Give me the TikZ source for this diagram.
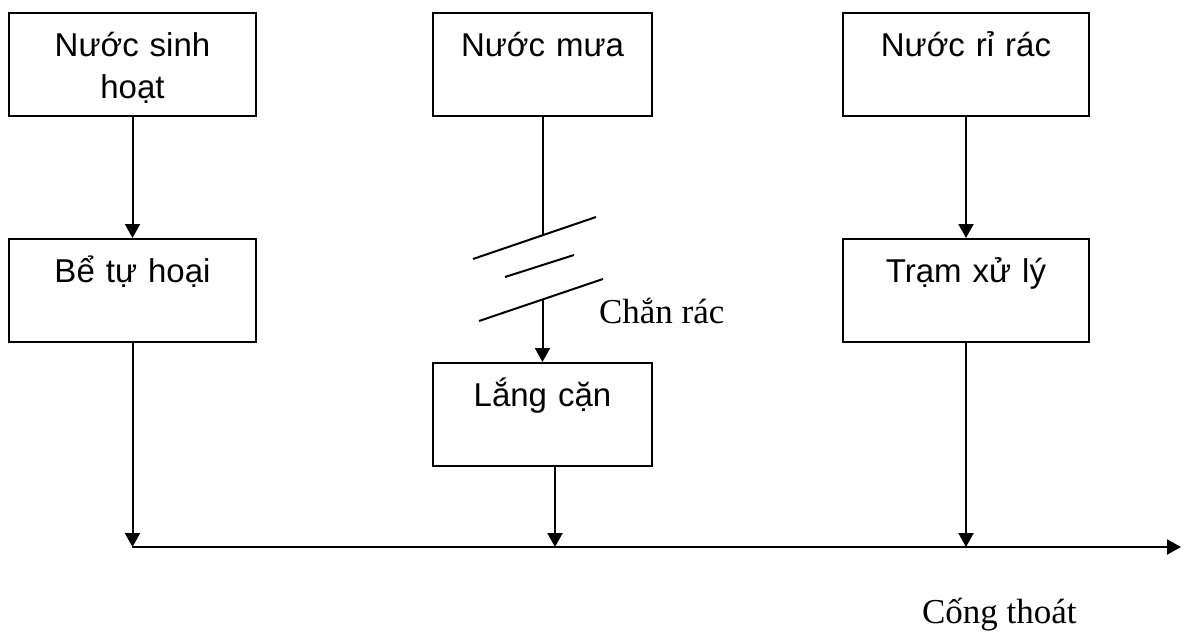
\documentclass[tikz,border=0pt]{standalone}
\usepackage{fontspec}
\setmainfont{Liberation Serif}
\newfontfamily\boxfont{Liberation Sans}
\usepackage{tikz}
\usetikzlibrary{arrows.meta,positioning}

\tikzset{
  box/.style={draw,line width=2pt,inner sep=0pt,anchor=north west,align=center,
    text width=#1,text height=43pt,text depth=60pt,
    font=\boxfont\fontsize{33}{42}\selectfont},
  lbl/.style={anchor=base west,inner sep=0pt,font=\fontsize{35}{42}\selectfont}
}

\begin{document}
\begin{tikzpicture}[x=1pt,y=-1pt,line width=2pt,>={Triangle[width=15pt,length=14pt]}]
\useasboundingbox (0,0) rectangle (1186,633);
% nguon nuoc
\node[box=247pt] (sh) at (8,12) {Nước sinh\\hoạt};
\node[box=219pt] (mua) at (432,12) {Nước mưa};
\node[box=246pt] (rr) at (842,12) {Nước rỉ rác};
% xu ly
\node[box=247pt] (tuhoai) at (8,238) {Bể tự hoại};
\node[box=219pt] (lang) at (432,362) {Lắng cặn};
\node[box=246pt] (tram) at (842,238) {Trạm xử lý};
\draw[->] (sh) -- (tuhoai);
\draw[->] (rr) -- (tram);
% chan rac
\coordinate (c1a) at (473,259); \coordinate (c1b) at (596,217);
\coordinate (c2a) at (505,277); \coordinate (c2b) at (574,255);
\coordinate (c3a) at (479,321); \coordinate (c3b) at (603,279);
\draw (c1a) -- (c1b) (c2a) -- (c2b) (c3a) -- (c3b);
\draw (mua.south) -- (mua.south |- 0,235.5);
\draw[->] (lang.north |- 0,299.8) -- (lang.north);
\node[lbl] (chan) at (598,323) {Chắn rác};
% cong thoat
\coordinate (busL) at (132,547);
\coordinate (busR) at (1181,547);
\coordinate (lo) at (555,547);
\draw[->] (busL) -- (busR);
\draw[->] (tuhoai) -- (tuhoai |- busL);
\draw[->] (lang.south -| lo) -- (lo);
\draw[->] (tram) -- (tram |- busL);
\node[lbl] (cong) at (921,623) {Cống thoát};
\end{tikzpicture}
\end{document}
